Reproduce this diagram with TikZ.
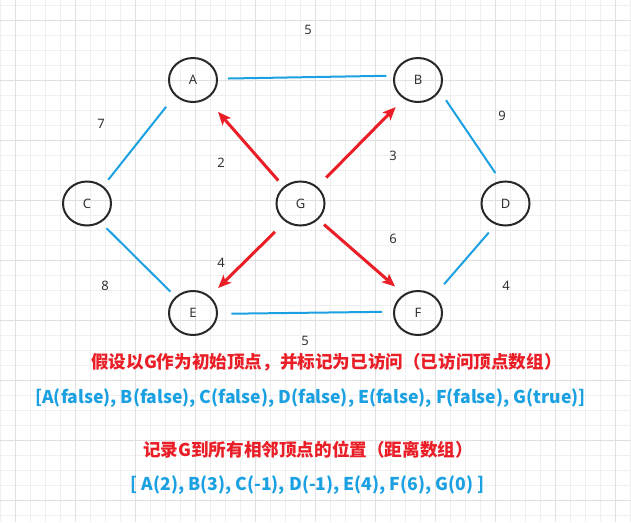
\documentclass[tikz,border=0pt]{standalone}
\usepackage{fontspec}
\setmainfont{Noto Sans}
\newfontfamily\cjk{Noto Sans CJK SC}
\usetikzlibrary{shapes.geometric,arrows.meta}
\definecolor{minorc}{RGB}{239,239,239}
\definecolor{majorc}{RGB}{224,224,224}
\definecolor{edgeblue}{RGB}{27,161,226}
\definecolor{edgered}{RGB}{234,30,38}
\definecolor{darkline}{RGB}{40,40,40}
\definecolor{labelc}{RGB}{51,51,51}
\tikzset{
  minorgrid/.style={draw=minorc, line width=1pt},
  majorgrid/.style={draw=majorc, line width=1pt},
  vertex/.style={ellipse, draw=darkline, line width=2pt, minimum width=48pt, minimum height=44pt, inner sep=0pt, font=\fontsize{13}{15}\selectfont, text=labelc},
  blueedge/.style={draw=edgeblue, line width=2pt},
  redarrow/.style={draw=edgered, line width=3pt, -{Stealth[length=13pt,width=11pt,inset=3pt]}},
  weight/.style={font=\fontsize{13}{15}\selectfont, text=labelc, inner sep=0pt},
  redtext/.style={font=\cjk\bfseries\fontsize{17.6}{21}\selectfont, text=edgered, inner sep=0pt},
  bluetext/.style={font=\cjk\bfseries\fontsize{17.6}{21}\selectfont, text=edgeblue, inner sep=0pt}
}
\begin{document}
\begin{tikzpicture}[x=1pt,y=-1pt]
\useasboundingbox (0,0) rectangle (631,522);
\fill[white] (0,0) rectangle (631,522);
\foreach \x in {0,15,...,630} \draw[minorgrid] (\x,0) -- (\x,522);
\foreach \y in {5,20,...,520} \draw[minorgrid] (0,\y) -- (631,\y);
\foreach \x in {15,75,...,615} \draw[majorgrid] (\x,0) -- (\x,522);
\foreach \y in {20,80,...,500} \draw[majorgrid] (0,\y) -- (631,\y);

\node[vertex] (A) at (193,80) {A};
\node[vertex] (B) at (418,80) {B};
\node[vertex] (C) at (87,203.5) {C};
\node[vertex] (G) at (300.5,203.5) {G};
\node[vertex] (D) at (505.5,203.5) {D};
\node[vertex] (E) at (193,313) {E};
\node[vertex] (F) at (418,313) {F};

\draw[blueedge, shorten <=10pt, shorten >=7pt] (A.3) -- (B.170);
\draw[blueedge, shorten <=14pt, shorten >=8pt] (A.221) -- (C.47);
\draw[blueedge, shorten <=8pt, shorten >=7pt] (C.306) -- (E.137);
\draw[blueedge, shorten <=13.5pt, shorten >=11pt] (E.358) -- (F.177);
\draw[blueedge, shorten <=11pt, shorten >=9.5pt] (B.333) -- (D.102);
\draw[blueedge, shorten <=10.5pt, shorten >=15pt] (D.245) -- (F.47);

\draw[redarrow, shorten <=8pt, shorten >=17pt] (G.135) -- (A.306);
\draw[redarrow, shorten <=12.5pt, shorten >=11.5pt] (G.45) -- (B.233);
\draw[redarrow, shorten <=14.5pt, shorten >=11.5pt] (G.230) -- (E.45);
\draw[redarrow, shorten <=7.5pt, shorten >=11.5pt] (G.318) -- (F.127);

\node[weight] (w1) at (308,30) {5};
\node[weight] (w2) at (101,123.5) {7};
\node[weight] (w3) at (221,163) {2};
\node[weight] (w4) at (393,156) {3};
\node[weight] (w5) at (502,116) {9};
\node[weight] (w6) at (393,239) {6};
\node[weight] (w7) at (221,263) {4};
\node[weight] (w8) at (105,286) {8};
\node[weight] (w9) at (506,286) {4};
\node[weight] (w10) at (305,341) {5};

\node[redtext] (t1) at (326.5,362) {假设以G作为初始顶点，并标记为已访问（已访问顶点数组）};
\node[bluetext] (t2) at (310.5,398) {[A(false), B(false), C(false), D(false), E(false), F(false), G(true)]};
\node[redtext] (t3) at (308,450) {记录G到所有相邻顶点的位置（距离数组）};
\node[bluetext] (t4) at (307.5,485) {[ A(2), B(3), C(-1), D(-1), E(4), F(6), G(0) ]};
\end{tikzpicture}
\end{document}
